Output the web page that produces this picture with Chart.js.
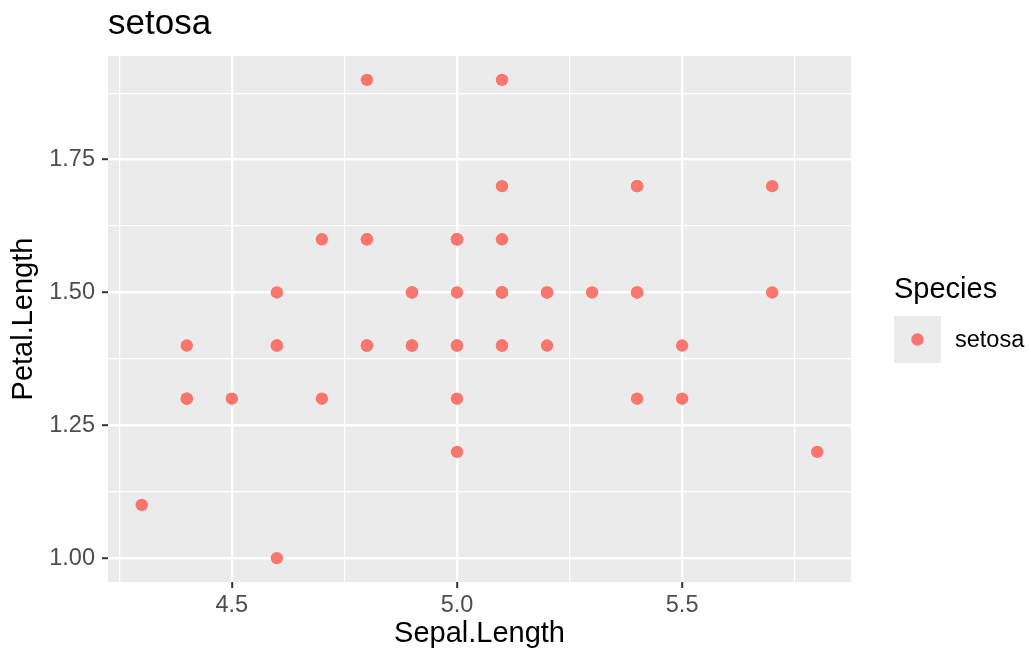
<!DOCTYPE html>
<html>
<head>
<meta charset="utf-8">
<script src="https://cdn.jsdelivr.net/npm/chart.js@4.4.1/dist/chart.umd.min.js"></script>
<style>
  html, body { margin: 0; padding: 0; background: #fff; }
  #wrap { width: 1031px; height: 656px; }
</style>
</head>
<body>
<div id="wrap"><canvas id="scatter"></canvas></div>
<script>

var speciesName = "setosa";

var sepalLength = [5.1, 4.9, 4.7, 4.6, 5.0, 5.4, 4.6, 5.0, 4.4, 4.9,
                   5.4, 4.8, 4.8, 4.3, 5.8, 5.7, 5.4, 5.1, 5.7, 5.1,
                   5.4, 5.1, 4.6, 5.1, 4.8, 5.0, 5.0, 5.2, 5.2, 4.7,
                   4.8, 5.4, 5.2, 5.5, 4.9, 5.0, 5.5, 4.9, 4.4, 5.1,
                   5.0, 4.5, 4.4, 5.0, 5.1, 4.8, 5.1, 4.6, 5.3, 5.0];

var petalLength = [1.4, 1.4, 1.3, 1.5, 1.4, 1.7, 1.4, 1.5, 1.4, 1.5,
                   1.5, 1.6, 1.4, 1.1, 1.2, 1.5, 1.3, 1.4, 1.7, 1.5,
                   1.7, 1.5, 1.0, 1.7, 1.9, 1.6, 1.6, 1.5, 1.4, 1.6,
                   1.6, 1.5, 1.5, 1.4, 1.5, 1.2, 1.3, 1.4, 1.3, 1.5,
                   1.3, 1.3, 1.3, 1.6, 1.9, 1.4, 1.6, 1.4, 1.5, 1.4];

var xMajorTicks = [4.5, 5.0, 5.5];
var xMinorTicks = [4.25, 4.75, 5.25, 5.75];
var yMajorTicks = [1.00, 1.25, 1.50, 1.75];
var yMinorTicks = [1.125, 1.375, 1.625, 1.875];

var pointColor = "#F8766D";
var panelColor = "#EBEBEB";
var fontFamily = "'Liberation Sans', Arial, sans-serif";

function isIn(list, v) {
	for (var i = 0; i < list.length; i++) {
		if (Math.abs(list[i] - v) < 1e-9) return true;
	}
	return false;
}

function setTicks(major, minor) {
	return function (scale) {
		scale.ticks = major.concat(minor).sort(function (a, b) { return a - b; })
			.map(function (v) { return { value: v }; });
	};
}

var points = sepalLength.map(function (x, i) {
	return { x: x, y: petalLength[i] };
});

// grey panel behind the grid
var panelBg = {
	id: "panelBg",
	beforeDraw: function (chart) {
		var a = chart.chartArea, c = chart.ctx;
		c.save();
		c.fillStyle = panelColor;
		c.fillRect(a.left, a.top, a.right - a.left, a.bottom - a.top);
		c.restore();
	}
};

// ggplot style title and legend
var ggExtras = {
	id: "ggExtras",
	afterDraw: function (chart) {
		var a = chart.chartArea, c = chart.ctx;
		c.save();
		c.fillStyle = "#000";
		c.textBaseline = "alphabetic";
		c.textAlign = "left";
		c.font = "35px " + fontFamily;
		c.fillText(speciesName, a.left, 34);

		c.font = "29px " + fontFamily;
		c.fillText("Species", 894, 298);

		c.fillStyle = panelColor;
		c.fillRect(894, 316, 47, 47);
		c.fillStyle = chart.data.datasets[0].backgroundColor;
		c.beginPath();
		c.arc(917.5, 339.5, 6.2, 0, Math.PI * 2);
		c.fill();

		c.fillStyle = "#000";
		c.font = "23.5px " + fontFamily;
		c.textBaseline = "middle";
		c.fillText(chart.data.datasets[0].label, 955, 341);
		c.restore();
	}
};

var ctx = document.getElementById("scatter");

var chart = new Chart(ctx, {
	type: "scatter",
	data: {
		datasets: [
			{
				label: speciesName,
				data: points,
				backgroundColor: pointColor,
				borderWidth: 0,
				pointRadius: 6.2,
				pointHoverRadius: 6.2
			}
		]
	},
	options: {
		responsive: true,
		maintainAspectRatio: false,
		animation: false,
		layout: {
			padding: { top: 56, right: 180, left: 0, bottom: 0 }
		},
		plugins: {
			legend: { display: false },
			title: { display: false },
			tooltip: { enabled: false }
		},
		scales: {
			x: {
				type: "linear",
				min: 4.225,
				max: 5.875,
				afterBuildTicks: setTicks(xMajorTicks, xMinorTicks),
				afterFit: function (scale) { scale.height = 74; },
				border: { display: false },
				grid: {
					color: "#FFFFFF",
					lineWidth: function (c) { return isIn(xMajorTicks, c.tick.value) ? 2.4 : 1.2; },
					tickColor: function (c) { return isIn(xMajorTicks, c.tick.value) ? "#333333" : "rgba(0,0,0,0)"; },
					tickWidth: 2,
					tickLength: 6
				},
				ticks: {
					autoSkip: false,
					maxRotation: 0,
					padding: 3,
					color: "#4D4D4D",
					font: { family: fontFamily, size: 23.5 },
					callback: function (v) { return isIn(xMajorTicks, v) ? v.toFixed(1) : ""; }
				},
				title: {
					display: true,
					text: "Sepal.Length",
					color: "#000",
					font: { family: fontFamily, size: 29 },
					padding: { top: 0, bottom: 5 }
				}
			},
			y: {
				type: "linear",
				min: 0.955,
				max: 1.945,
				afterBuildTicks: setTicks(yMajorTicks, yMinorTicks),
				afterFit: function (scale) { scale.width = 108; },
				border: { display: false },
				grid: {
					color: "#FFFFFF",
					lineWidth: function (c) { return isIn(yMajorTicks, c.tick.value) ? 2.4 : 1.2; },
					tickColor: function (c) { return isIn(yMajorTicks, c.tick.value) ? "#333333" : "rgba(0,0,0,0)"; },
					tickWidth: 2,
					tickLength: 6
				},
				ticks: {
					autoSkip: false,
					padding: 7,
					color: "#4D4D4D",
					font: { family: fontFamily, size: 23.5 },
					callback: function (v) { return isIn(yMajorTicks, v) ? v.toFixed(2) : ""; }
				},
				title: {
					display: true,
					text: "Petal.Length",
					color: "#000",
					font: { family: fontFamily, size: 29 },
					padding: { top: 7, bottom: 0 }
				}
			}
		}
	},
	plugins: [panelBg, ggExtras]
});

</script>
</body>
</html>
